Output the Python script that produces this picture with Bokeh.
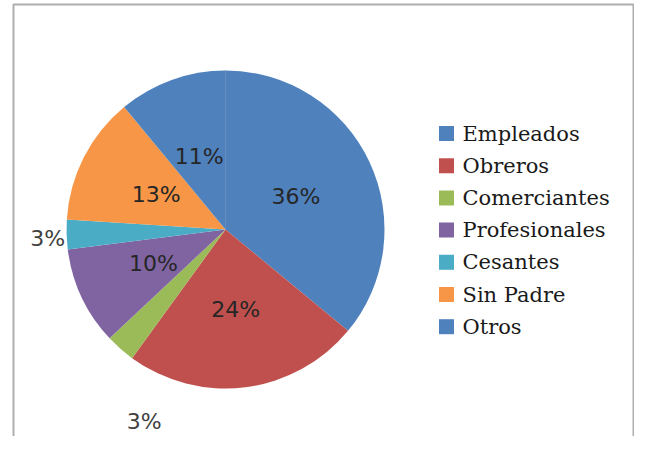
import math
from bokeh.plotting import figure
from bokeh.models import ColumnDataSource, Range1d
from bokeh.core.properties import value
from bokeh.embed import file_html
from bokeh.resources import INLINE

# ---- data ----
categories = ["Empleados", "Obreros", "Comerciantes", "Profesionales",
              "Cesantes", "Sin Padre", "Otros"]
values = [36, 24, 3, 10, 3, 13, 11]
colors = ["#4F81BD", "#C0504D", "#9BBB59", "#8064A2",
          "#4BACC6", "#F79646", "#4F81BD"]

# ---- layout ----
W, H = 634, 436
cx, cy, R = 225, 207, 159
label_rf = [0.49, 0.51, 1.31, 0.50, 1.12, 0.49, 0.49]     # radius factor of labels
label_shift = [0, 0, -18.4, 0, -1.2, 0, 0]                 # degrees (manual moves)
label_inside = [True, True, False, True, False, True, True]

total = float(sum(values))
starts, ends, lx, ly, ltxt, lcol = [], [], [], [], [], []
cum = 0.0
for i, v in enumerate(values):
    f0 = cum / total
    cum += v
    f1 = cum / total
    # bokeh angles: counter-clockwise from +x; pie runs clockwise from 12 o'clock
    starts.append(math.pi / 2 - f1 * 2 * math.pi)
    ends.append(math.pi / 2 - f0 * 2 * math.pi)
    mid = math.radians((f0 + f1) / 2 * 360 + label_shift[i])
    r = label_rf[i] * R
    lx.append(cx + r * math.sin(mid))
    ly.append(cy + r * math.cos(mid))
    ltxt.append(f"{round(v / total * 100)}%")
    lcol.append("#262626" if label_inside[i] else "#404040")

src = ColumnDataSource(dict(start=starts, end=ends, color=colors, cat=categories))
lsrc = ColumnDataSource(dict(x=lx, y=ly, t=ltxt, c=lcol))

p = figure(width=W, height=H, output_backend="svg", toolbar_location=None,
           x_range=Range1d(0, W), y_range=Range1d(0, H),
           min_border=0, x_axis_type=None, y_axis_type=None)
p.grid.visible = False
p.outline_line_color = None
p.background_fill_color = "white"
p.border_fill_color = "white"

# chart frame
p.line(x=[13, 13, W - 1, W - 1], y=[0, H - 4, H - 4, 0], line_color="#AEAEAE", line_width=2)

p.wedge(x=cx, y=cy, radius=R, start_angle="start", end_angle="end",
        direction="anticlock", fill_color="color", line_color=None, source=src)
# faint seam at 12 o'clock
p.ray(x=cx, y=cy, length=R, angle=math.pi / 2, line_color="#5a7fb0", line_width=1, line_alpha=0.6)

p.text(x="x", y="y", text="t", text_color="c", source=lsrc,
       text_align="center", text_baseline="middle",
       text_font=value("DejaVu Sans"), text_font_size="22px")

# legend
leg_x_sq, leg_x_txt, leg_y0, leg_dy, sq = 446, 462, 303, 32.2, 15
leg_y = [leg_y0 - i * leg_dy for i in range(len(categories))]
legsrc = ColumnDataSource(dict(xs=[leg_x_sq] * len(categories), xt=[leg_x_txt] * len(categories),
                               y=leg_y, cat=categories, color=colors))
p.rect(x="xs", y="y", width=sq, height=sq, fill_color="color", line_color=None, source=legsrc)
p.text(x="xt", y="y", text="cat", source=legsrc, text_color="#1a1a1a",
       text_align="left", text_baseline="middle",
       text_font=value("DejaVu Serif"), text_font_size="21px")

open("out.html", "w").write(file_html(p, INLINE))
